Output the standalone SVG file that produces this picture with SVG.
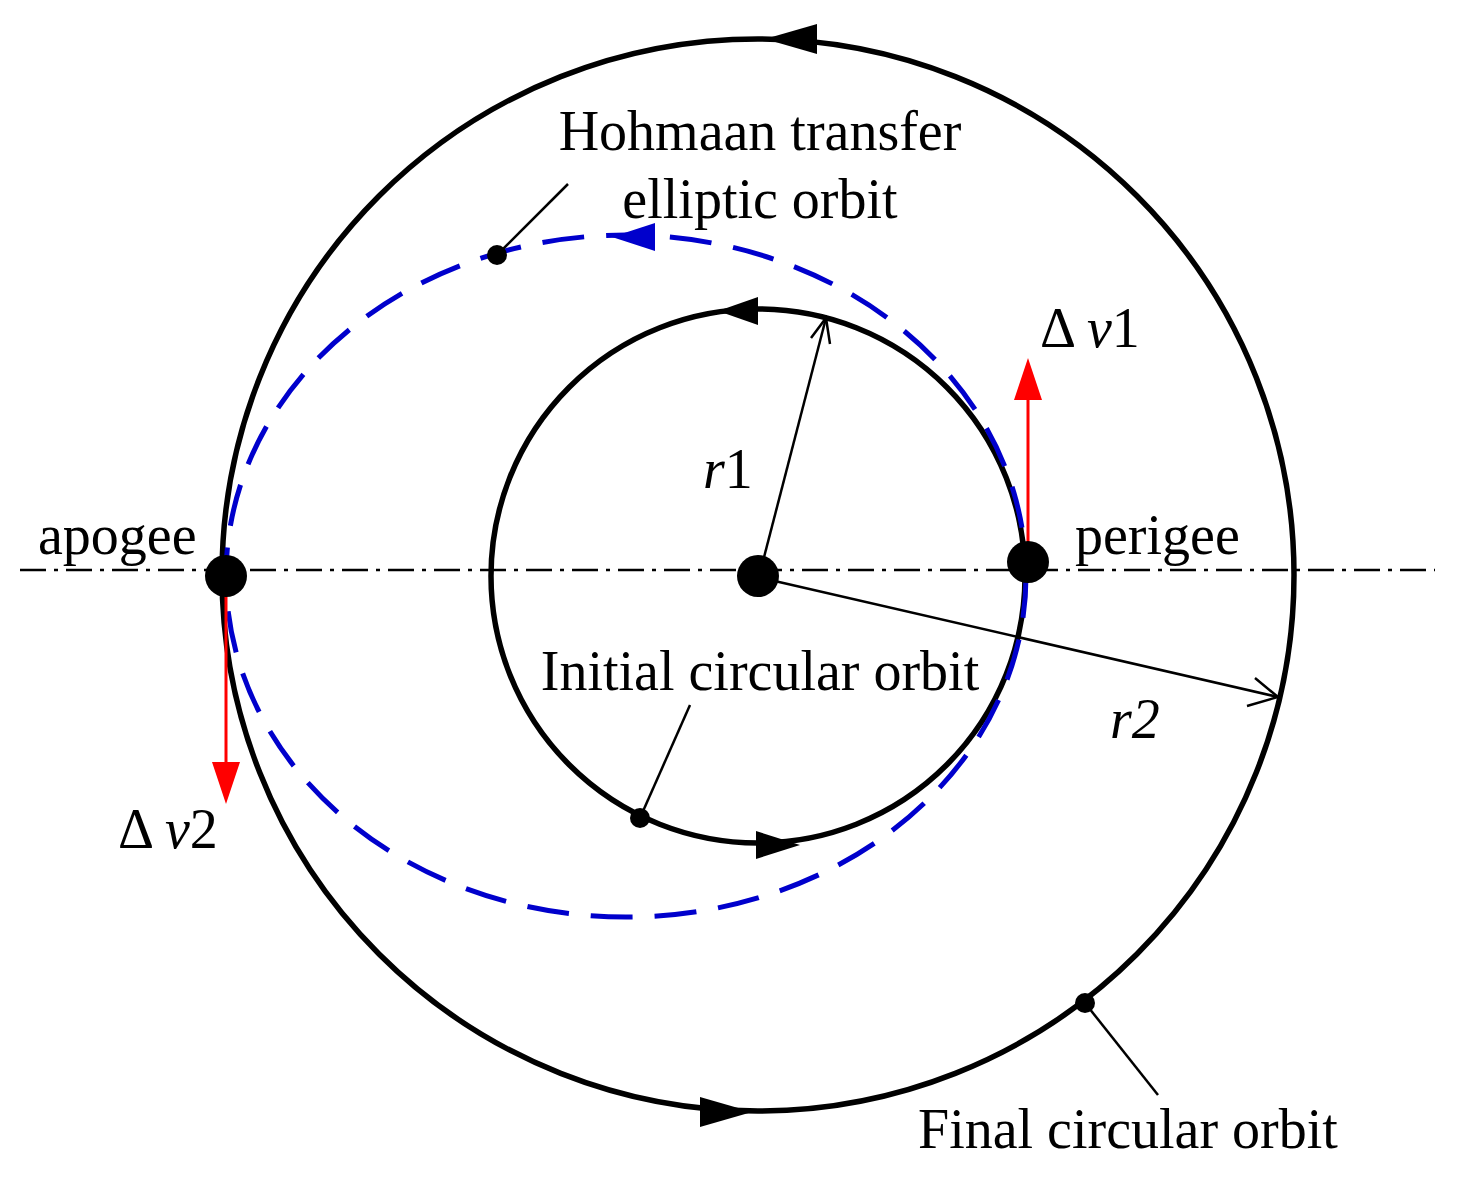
<svg xmlns="http://www.w3.org/2000/svg" width="1458" height="1179" viewBox="0 0 1458 1179">
<style>
text{font-family:"Liberation Serif",serif;font-size:56px;fill:#000}
.orb{fill:none;stroke:#000;stroke-width:5.5}
.thin{stroke:#000;stroke-width:2.5;fill:none}
.red{stroke:#f00;stroke-width:3}
</style>
<rect width="1458" height="1179" fill="#fff"/>
<g id="axis"><line x1="20" y1="570" x2="1435" y2="570" stroke="#000" stroke-width="2.5" stroke-dasharray="26 8 4 8"/></g>
<g id="final-orbit">
<circle class="orb" cx="758" cy="575" r="536"/>
<polygon points="765,39 817,24 817,54" fill="#000"/>
<polygon points="752,1112 700,1097 700,1127" fill="#000"/>
</g>
<g id="initial-orbit">
<circle class="orb" cx="758" cy="576" r="267"/>
<polygon points="718,311 758,297 758,325" fill="#000"/>
<polygon points="800,845 756,831 756,859" fill="#000"/>
</g>
<g id="transfer-orbit">
<ellipse cx="626" cy="576" rx="400" ry="341" fill="none" stroke="#0000cc" stroke-width="5" stroke-dasharray="42 22"/>
<polygon points="612,237 655,223 655,251" fill="#0000cc"/>
</g>
<g id="connectors">
<line class="thin" x1="762" y1="565" x2="826" y2="318"/>
<polyline class="thin" points="811,338 826,318 830,344"/>
<line class="thin" x1="766" y1="579" x2="1278" y2="697"/>
<polyline class="thin" points="1255,678 1278,697 1247,706"/>
<line class="thin" x1="497" y1="255" x2="568" y2="184"/>
<line class="thin" x1="640" y1="818" x2="690" y2="705"/>
<line class="thin" x1="1085" y1="1003" x2="1158" y2="1095"/>
<line class="red" x1="1028" y1="545" x2="1028" y2="395"/>
<polygon points="1028,358 1014,400 1042,400" fill="#f00"/>
<line class="red" x1="226" y1="592" x2="226" y2="765"/>
<polygon points="226,804 212,762 240,762" fill="#f00"/>
</g>
<g id="points">
<circle cx="226" cy="576" r="21" fill="#000"/>
<circle cx="758" cy="576" r="21" fill="#000"/>
<circle cx="1028" cy="562" r="21" fill="#000"/>
<circle cx="497" cy="255" r="10" fill="#000"/>
<circle cx="640" cy="818" r="10" fill="#000"/>
<circle cx="1085" cy="1003" r="10" fill="#000"/>
</g>
<g id="labels">
<text x="760" y="150" text-anchor="middle">Hohmaan transfer</text>
<text x="760" y="218" text-anchor="middle">elliptic orbit</text>
<text x="1040" y="347">Δ <tspan font-style="italic">v</tspan>1</text>
<text x="703" y="488"><tspan font-style="italic">r</tspan>1</text>
<text x="38" y="554">apogee</text>
<text x="1075" y="554">perigee</text>
<text x="760" y="690" text-anchor="middle">Initial circular orbit</text>
<text x="1110" y="738" font-style="italic">r2</text>
<text x="118" y="848">Δ <tspan font-style="italic">v</tspan>2</text>
<text x="918" y="1148">Final circular orbit</text>
</g>
</svg>
